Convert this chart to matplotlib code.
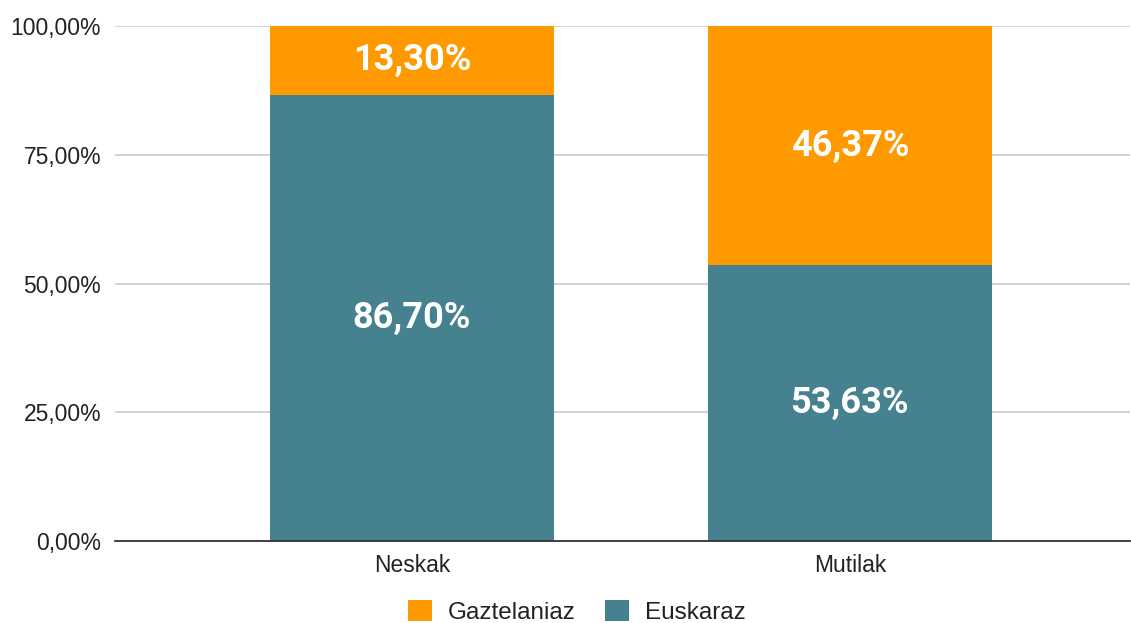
import numpy as np
import matplotlib.pyplot as plt
from matplotlib.ticker import FuncFormatter

# Data
categories = ['Neskak', 'Mutilak']
euskaraz = [86.70, 53.63]
gaztelaniaz = [13.30, 46.37]

teal = '#45818e'
orange = '#ff9900'


def pct(v):
    return '{:.2f}%'.format(v).replace('.', ',')


def draw_chart():
    plt.rcParams['font.family'] = ['Liberation Sans', 'DejaVu Sans']

    fig = plt.figure(figsize=(11.31, 6.23), dpi=100)
    ax = fig.add_axes([0.1017, 0.1316, 0.8975, 0.8266])

    x = np.arange(len(categories))
    width = 0.648

    bars_eu = ax.bar(x, euskaraz, width, color=teal, label='Euskaraz', zorder=3)
    bars_ga = ax.bar(x, gaztelaniaz, width, bottom=euskaraz, color=orange,
                     label='Gaztelaniaz', zorder=3)

    # value labels in the middle of each segment
    for bars, vals in ((bars_eu, euskaraz), (bars_ga, gaztelaniaz)):
        for b, v in zip(bars, vals):
            ax.text(b.get_x() + b.get_width() / 2, b.get_y() + b.get_height() / 2,
                    pct(v), ha='center', va='center', color='white',
                    fontsize=26, fontweight='bold', family='Roboto', zorder=4)

    ax.set_xlim(-0.678, 1.64)
    ax.set_ylim(0, 100)
    ax.set_yticks([0, 25, 50, 75, 100])
    ax.yaxis.set_major_formatter(FuncFormatter(lambda v, p: pct(v)))
    ax.set_xticks(x)
    ax.set_xticklabels(categories)

    ax.grid(axis='y', color='#cccccc', linewidth=1.2, zorder=0)
    ax.tick_params(axis='both', length=0, labelsize=16.5, colors='#222222')
    ax.tick_params(axis='y', pad=10)
    ax.tick_params(axis='x', pad=9)
    for s in ('top', 'right', 'left'):
        ax.spines[s].set_visible(False)
    ax.spines['bottom'].set_color('#333333')
    ax.spines['bottom'].set_linewidth(1.3)
    ax.spines['bottom'].set_zorder(5)

    handles, labels = ax.get_legend_handles_labels()
    fig.legend(handles[::-1], labels[::-1], loc='center', bbox_to_anchor=(0.51, 0.018),
               ncol=2, frameon=False, fontsize=17.5, handlelength=1.0, handleheight=1.0,
               handletextpad=0.65, columnspacing=1.2, labelcolor='#222222')

    plt.savefig('out.png', dpi=100)


if __name__ == '__main__':
    draw_chart()
